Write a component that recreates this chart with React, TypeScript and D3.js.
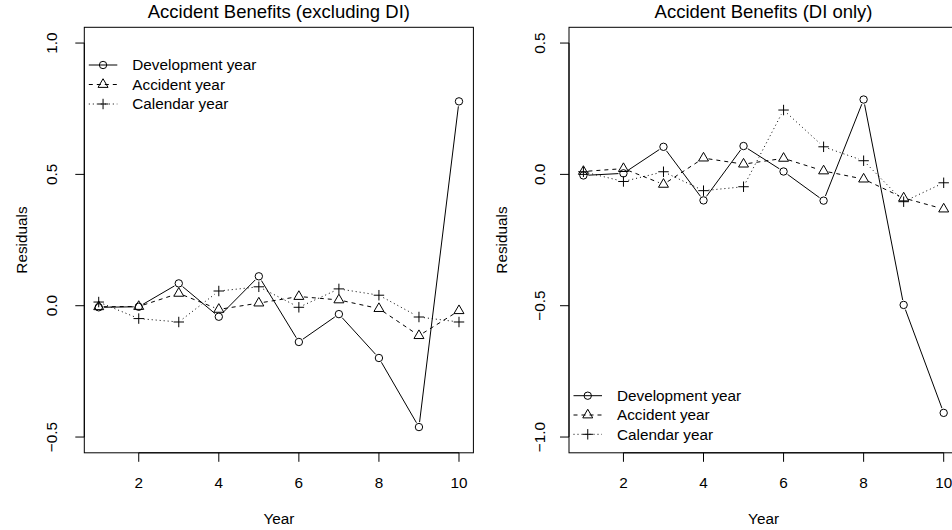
import React from "react";
import * as d3 from "d3";

const years = [1, 2, 3, 4, 5, 6, 7, 8, 9, 10];
const xTicks = [2, 4, 6, 8, 10];

const leftDev = [-0.006, -0.004, 0.085, -0.042, 0.112, -0.138, -0.032, -0.199, -0.462, 0.778];
const leftAcc = [-0.004, -0.003, 0.047, -0.014, 0.010, 0.035, 0.022, -0.011, -0.114, -0.019];
const leftCal = [0.014, -0.049, -0.062, 0.056, 0.072, -0.006, 0.064, 0.040, -0.043, -0.062];
const leftYTicks = [-0.5, 0.0, 0.5, 1.0];
const leftYLim: [number, number] = [-0.5, 1.0];

const rightDev = [-0.004, 0.004, 0.105, -0.099, 0.108, 0.011, -0.100, 0.285, -0.497, -0.908];
const rightAcc = [0.011, 0.022, -0.038, 0.062, 0.039, 0.061, 0.013, -0.018, -0.090, -0.132];
const rightCal = [0.010, -0.027, 0.010, -0.062, -0.047, 0.245, 0.105, 0.052, -0.104, -0.032];
const rightYTicks = [-1.0, -0.5, 0.0, 0.5];
const rightYLim: [number, number] = [-1.0, 0.5];

const seriesNames = ["Development year", "Accident year", "Calendar year"];

const FONT = "'Liberation Sans', Arial, Helvetica, sans-serif";
const FS = 15.3;
const R0 = 3.7;
const GAP = 5;

type Sym = "circle" | "triangle" | "plus";
const syms: Sym[] = ["circle", "triangle", "plus"];
const dashes = ["none", "4 4", "1 3"];

function Symbol({ x, y, s }: { x: number; y: number; s: Sym }) {
  if (s === "circle") return <circle cx={x} cy={y} r={R0} fill="none" stroke="#000" strokeWidth={1} />;
  if (s === "triangle") {
    const r = 1.555 * R0, xc = 1.347 * R0, yc = 0.778 * R0;
    return (
      <path
        d={`M${x},${y - r}L${x + xc},${y + yc}L${x - xc},${y + yc}Z`}
        fill="none"
        stroke="#000"
        strokeWidth={1}
      />
    );
  }
  const h = 1.414 * R0;
  return <path d={`M${x - h},${y}H${x + h}M${x},${y - h}V${y + h}`} stroke="#000" strokeWidth={1} fill="none" />;
}

function Panel({
  left,
  title,
  series,
  yTicks,
  yLim,
  legendPos,
  yLabOff,
  yTitleOff,
}: {
  left: number;
  title: string;
  series: number[][];
  yTicks: number[];
  yLim: [number, number];
  legendPos: "top" | "bottom";
  yLabOff: number;
  yTitleOff: number;
}) {
  const top = 27.3;
  const bottom = 452.8;
  const width = 389.1;
  const xExt = (10 - 1) * 0.04;
  const yExt = (yLim[1] - yLim[0]) * 0.04;
  const x = d3.scaleLinear().domain([1 - xExt, 10 + xExt]).range([left, left + width]);
  const y = d3.scaleLinear().domain([yLim[0] - yExt, yLim[1] + yExt]).range([bottom, top]);
  const cx = left + width / 2;
  const tick = 9;

  const legendRows = legendPos === "top" ? [65, 84.5, 104] : [395.7, 415, 434.3];

  return (
    <g>
      <text x={cx} y={17.5} textAnchor="middle" fontSize={18.5} fontFamily={FONT}>
        {title}
      </text>
      <rect x={left} y={top} width={width} height={bottom - top} fill="none" stroke="#000" strokeWidth={1} />
      {/* x axis */}
      <line x1={x(xTicks[0])} x2={x(xTicks[xTicks.length - 1])} y1={bottom} y2={bottom} stroke="#000" />
      {xTicks.map((t) => (
        <g key={"xt" + t}>
          <line x1={x(t)} x2={x(t)} y1={bottom} y2={bottom + tick} stroke="#000" />
          <text x={x(t)} y={bottom + 35.5} textAnchor="middle" fontSize={FS} fontFamily={FONT}>
            {String(t)}
          </text>
        </g>
      ))}
      <text x={cx} y={524} textAnchor="middle" fontSize={FS} fontFamily={FONT}>
        Year
      </text>
      {/* y axis */}
      <line x1={left} x2={left} y1={y(yTicks[0])} y2={y(yTicks[yTicks.length - 1])} stroke="#000" />
      {yTicks.map((t) => (
        <g key={"yt" + t}>
          <line x1={left - tick} x2={left} y1={y(t)} y2={y(t)} stroke="#000" />
          <text
            transform={`translate(${left - yLabOff},${y(t)}) rotate(-90)`}
            textAnchor="middle"
            fontSize={FS}
            fontFamily={FONT}
          >
            {t < 0 ? "\u2212" + Math.abs(t).toFixed(1) : t.toFixed(1)}
          </text>
        </g>
      ))}
      <text
        transform={`translate(${left - yTitleOff},${(top + bottom) / 2}) rotate(-90)`}
        textAnchor="middle"
        fontSize={FS}
        fontFamily={FONT}
      >
        Residuals
      </text>
      {/* series */}
      {series.map((vals, si) => {
        const pts = years.map((yr, i) => [x(yr), y(vals[i])] as [number, number]);
        const segs = [] as React.ReactNode[];
        for (let i = 0; i < pts.length - 1; i++) {
          const [x0, y0] = pts[i];
          const [x1, y1] = pts[i + 1];
          const L = Math.hypot(x1 - x0, y1 - y0);
          if (L <= 2 * GAP) continue;
          const f = GAP / L;
          segs.push(
            <line
              key={"s" + si + "-" + i}
              x1={x0 + f * (x1 - x0)}
              y1={y0 + f * (y1 - y0)}
              x2={x1 - f * (x1 - x0)}
              y2={y1 - f * (y1 - y0)}
              stroke="#000"
              strokeWidth={1}
              strokeDasharray={dashes[si]}
            />
          );
        }
        return (
          <g key={"series" + si}>
            {segs}
            {pts.map(([px, py], i) => (
              <Symbol key={"p" + si + "-" + i} x={px} y={py} s={syms[si]} />
            ))}
          </g>
        );
      })}
      {/* legend */}
      {seriesNames.map((name, i) => {
        const ly = legendRows[i];
        const lx0 = left + 4.5;
        const lx1 = left + 33;
        return (
          <g key={"leg" + i}>
            <line x1={lx0} x2={lx1} y1={ly} y2={ly} stroke="#000" strokeDasharray={dashes[i]} />
            <Symbol x={(lx0 + lx1) / 2} y={ly} s={syms[i]} />
            <text x={left + 48} y={ly + 5.3} fontSize={FS} fontFamily={FONT}>
              {name}
            </text>
          </g>
        );
      })}
    </g>
  );
}

export default function App() {
  return (
    <div style={{ position: "absolute", left: 0, top: 0, width: 952, height: 530, background: "#fff" }}>
      <svg width={952} height={530} viewBox="0 0 952 530" style={{ display: "block" }}>
        <rect x={0} y={0} width={952} height={530} fill="#fff" />
        <Panel
          left={84.3}
          title="Accident Benefits (excluding DI)"
          series={[leftDev, leftAcc, leftCal]}
          yTicks={leftYTicks}
          yLim={leftYLim}
          legendPos="top"
          yLabOff={27}
          yTitleOff={57}
        />
        <Panel
          left={569}
          title="Accident Benefits (DI only)"
          series={[rightDev, rightAcc, rightCal]}
          yTicks={rightYTicks}
          yLim={rightYLim}
          legendPos="bottom"
          yLabOff={24.5}
          yTitleOff={62}
        />
      </svg>
    </div>
  );
}
